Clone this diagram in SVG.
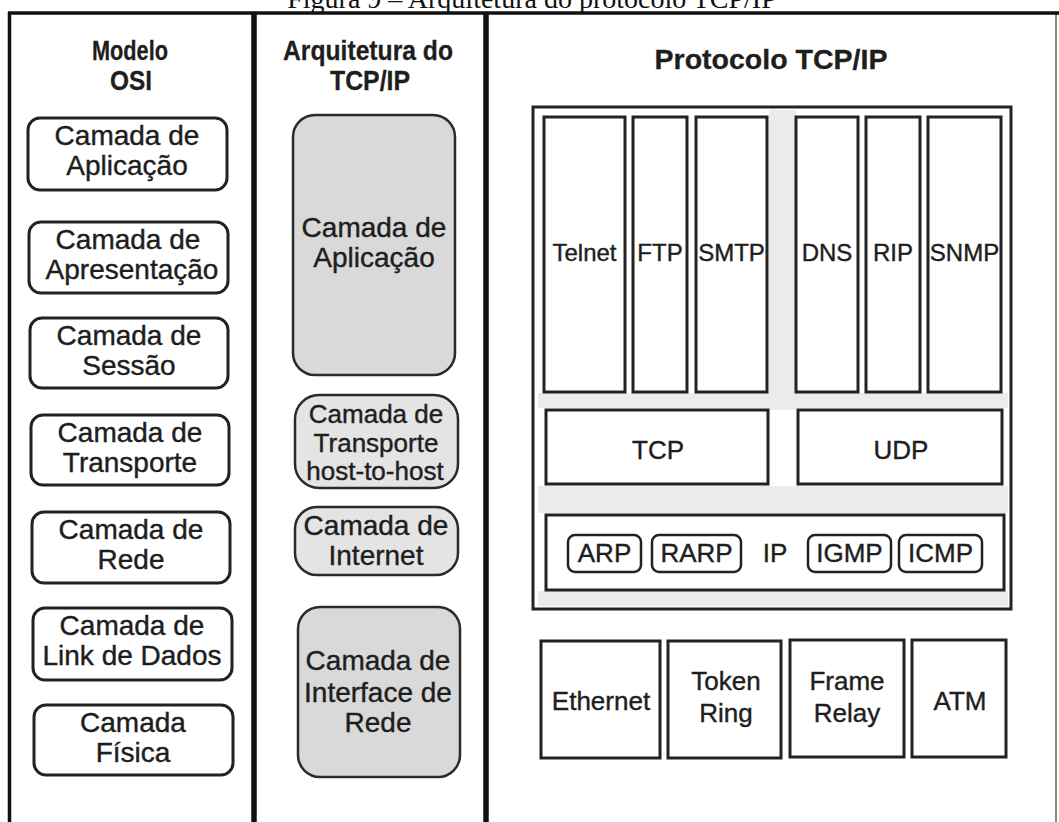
<svg xmlns="http://www.w3.org/2000/svg" width="1059" height="822" viewBox="0 0 1059 822">
  <style>
    .t { font-family: "Liberation Sans", Arial, sans-serif; fill: #1e1e1e; stroke: #1e1e1e; stroke-width: 0.4; text-anchor: middle; }
    .n { font-size: 28px; }
    .nb { font-size: 26px; }
    .s { font-size: 24px; }
    .m { font-size: 26px; }
    .h { font-size: 28px; font-weight: bold; stroke-width: 0.3; }
    .osi { fill: #ffffff; stroke: #222; stroke-width: 3; }
    .arch { stroke: #2a2a2a; stroke-width: 2.5; }
    .g1 { fill: #d9d9d9; }
    .g2 { fill: #e4e4e4; }
    .box { fill: #ffffff; stroke: #222; stroke-width: 3; }
    .pill { fill: #ffffff; stroke: #222; stroke-width: 2.5; }
    .frame { stroke: #111; fill: none; }
    .band { fill: #ebebeb; }
  </style>
  <rect x="0" y="0" width="1059" height="822" fill="#ffffff"/>

  <!-- caption (cropped at top as in the source) -->
  <text x="532" y="8" font-family="'Liberation Serif', 'Times New Roman', serif" font-size="28" text-anchor="middle" fill="#111">Figura 9 – Arquitetura do protocolo TCP/IP</text>

  <!-- frame -->
  <g id="frame">
    <line class="frame" x1="8" y1="13" x2="1059" y2="13" stroke-width="3.5"/>
    <line class="frame" x1="9.5" y1="12" x2="9.5" y2="822" stroke-width="3.5"/>
    <line class="frame" x1="254" y1="12" x2="254" y2="822" stroke-width="5.5"/>
    <line class="frame" x1="486" y1="12" x2="486" y2="822" stroke-width="5.5"/>
    <line class="frame" x1="1056" y1="12" x2="1056" y2="822" stroke-width="1" stroke="#bbb"/>
  </g>

  <!-- headers -->
  <g id="header-osi">
    <text class="t h" x="130" y="60" textLength="76" lengthAdjust="spacingAndGlyphs">Modelo</text>
    <text class="t h" x="131" y="90" textLength="42" lengthAdjust="spacingAndGlyphs">OSI</text>
  </g>
  <g id="header-arch">
    <text class="t h" x="368" y="60" textLength="170" lengthAdjust="spacingAndGlyphs">Arquitetura do</text>
    <text class="t h" x="370" y="90" textLength="80" lengthAdjust="spacingAndGlyphs">TCP/IP</text>
  </g>
  <g id="header-proto">
    <text class="t h" x="771" y="69" textLength="233" lengthAdjust="spacingAndGlyphs">Protocolo TCP/IP</text>
  </g>

  <!-- OSI model column -->
  <g id="osi-aplicacao">
    <rect class="osi" x="28" y="118" width="199" height="72" rx="12"/>
    <text class="t n" x="127" y="145">Camada de</text>
    <text class="t n" x="127" y="175">Aplicação</text>
  </g>
  <g id="osi-apresentacao">
    <rect class="osi" x="29" y="222" width="199" height="71" rx="12"/>
    <text class="t n" x="128" y="249">Camada de</text>
    <text class="t n" x="132" y="279">Apresentação</text>
  </g>
  <g id="osi-sessao">
    <rect class="osi" x="30" y="318" width="198" height="70" rx="12"/>
    <text class="t n" x="129" y="345">Camada de</text>
    <text class="t n" x="129" y="375">Sessão</text>
  </g>
  <g id="osi-transporte">
    <rect class="osi" x="31" y="415" width="198" height="70" rx="12"/>
    <text class="t n" x="130" y="442">Camada de</text>
    <text class="t n" x="130" y="472">Transporte</text>
  </g>
  <g id="osi-rede">
    <rect class="osi" x="32" y="512" width="198" height="71" rx="12"/>
    <text class="t n" x="131" y="539">Camada de</text>
    <text class="t n" x="131" y="569">Rede</text>
  </g>
  <g id="osi-enlace">
    <rect class="osi" x="33" y="608" width="199" height="72" rx="12"/>
    <text class="t n" x="132" y="635">Camada de</text>
    <text class="t n" x="132" y="665">Link de Dados</text>
  </g>
  <g id="osi-fisica">
    <rect class="osi" x="34" y="705" width="199" height="70" rx="12"/>
    <text class="t n" x="133" y="732">Camada</text>
    <text class="t n" x="133" y="762">Física</text>
  </g>

  <!-- TCP/IP architecture column -->
  <g id="arch-aplicacao">
    <rect class="arch g1" x="293" y="115" width="162" height="260" rx="22"/>
    <text class="t n" x="374" y="237">Camada de</text>
    <text class="t n" x="374" y="267">Aplicação</text>
  </g>
  <g id="arch-transporte">
    <rect class="arch g2" x="295" y="395" width="163" height="93" rx="24"/>
    <text class="t nb" x="376" y="423">Camada de</text>
    <text class="t nb" x="376" y="452">Transporte</text>
    <text class="t nb" x="375" y="480">host-to-host</text>
  </g>
  <g id="arch-internet">
    <rect class="arch g2" x="295" y="507" width="163" height="68" rx="22"/>
    <text class="t n" x="376" y="535">Camada de</text>
    <text class="t n" x="376" y="565">Internet</text>
  </g>
  <g id="arch-interface">
    <rect class="arch g1" x="298" y="607" width="162" height="170" rx="22"/>
    <text class="t n" x="378" y="670">Camada de</text>
    <text class="t n" x="378" y="702">Interface de</text>
    <text class="t n" x="378" y="732">Rede</text>
  </g>

  <!-- Protocol column -->
  <g id="proto-stack">
    <rect x="533" y="107" width="478" height="502" fill="#ffffff" stroke="#222" stroke-width="3"/>
    <rect class="band" x="769" y="110" width="27" height="300"/>
    <rect class="band" x="538" y="393" width="470" height="15"/>
    <rect class="band" x="538" y="486" width="470" height="27"/>
    <rect class="band" x="538" y="591" width="470" height="15"/>
  </g>

  <g id="app-telnet">
    <rect class="box" x="544" y="117" width="81" height="275"/>
    <text class="t s" x="584.5" y="261">Telnet</text>
  </g>
  <g id="app-ftp">
    <rect class="box" x="633" y="117" width="54" height="275"/>
    <text class="t s" x="660" y="261">FTP</text>
  </g>
  <g id="app-smtp">
    <rect class="box" x="696" y="117" width="71" height="275"/>
    <text class="t s" x="731.5" y="261">SMTP</text>
  </g>
  <g id="app-dns">
    <rect class="box" x="796" y="117" width="62" height="275"/>
    <text class="t s" x="827" y="261">DNS</text>
  </g>
  <g id="app-rip">
    <rect class="box" x="866" y="117" width="54" height="275"/>
    <text class="t s" x="893" y="261">RIP</text>
  </g>
  <g id="app-snmp">
    <rect class="box" x="928" y="117" width="73" height="275"/>
    <text class="t s" x="964.5" y="261">SNMP</text>
  </g>

  <g id="transport-tcp">
    <rect class="box" x="546" y="410" width="222" height="74"/>
    <text class="t m" x="658" y="459">TCP</text>
  </g>
  <g id="transport-udp">
    <rect class="box" x="798" y="410" width="204" height="74"/>
    <text class="t m" x="901" y="459">UDP</text>
  </g>

  <g id="internet-ip">
    <rect class="box" x="546" y="515" width="458" height="75"/>
    <text class="t m" x="775" y="562">IP</text>
  </g>
  <g id="ip-arp">
    <rect class="pill" x="568" y="535" width="73" height="37" rx="7"/>
    <text class="t m" x="604.5" y="562">ARP</text>
  </g>
  <g id="ip-rarp">
    <rect class="pill" x="652" y="535" width="89" height="37" rx="7"/>
    <text class="t m" x="696.5" y="562">RARP</text>
  </g>
  <g id="ip-igmp">
    <rect class="pill" x="808" y="535" width="83" height="37" rx="7"/>
    <text class="t m" x="849.5" y="562">IGMP</text>
  </g>
  <g id="ip-icmp">
    <rect class="pill" x="899" y="535" width="83" height="37" rx="7"/>
    <text class="t m" x="940.5" y="562">ICMP</text>
  </g>

  <g id="net-ethernet">
    <rect class="box" x="541" y="641" width="119" height="117"/>
    <text class="t m" x="601" y="710">Ethernet</text>
  </g>
  <g id="net-tokenring">
    <rect class="box" x="668" y="641" width="113" height="117"/>
    <text class="t m" x="726" y="690">Token</text>
    <text class="t m" x="726" y="722">Ring</text>
  </g>
  <g id="net-framerelay">
    <rect class="box" x="790" y="640" width="114" height="117"/>
    <text class="t m" x="847" y="690">Frame</text>
    <text class="t m" x="847" y="722">Relay</text>
  </g>
  <g id="net-atm">
    <rect class="box" x="912" y="640" width="94" height="117"/>
    <text class="t m" x="960" y="710">ATM</text>
  </g>

  <g id="connectors"/>
</svg>
